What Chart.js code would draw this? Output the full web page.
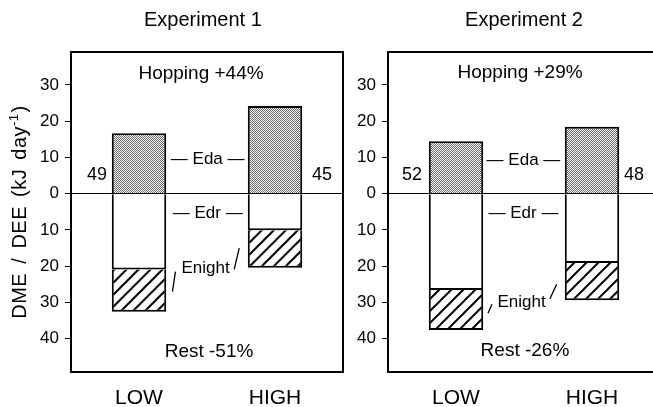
<!DOCTYPE html>
<html>
<head>
<meta charset="utf-8">
<script src="https://cdn.jsdelivr.net/npm/chart.js@4/dist/chart.umd.min.js"></script>
<style>
  html, body { margin: 0; padding: 0; background: #fff; width: 653px; height: 407px; overflow: hidden; }
  .panel { position: absolute; top: 0; height: 407px; }
  #p1 { left: 0; width: 345px; }
  #p2 { left: 345px; width: 320px; }
</style>
</head>
<body>
<div class="panel" id="p1"><canvas id="c1"></canvas></div>
<div class="panel" id="p2"><canvas id="c2"></canvas></div>
<script>
// Energy budget per group (kJ day^-1): Eda above zero, Edr and Enight below
const groups = ['LOW', 'HIGH'];

const exp1Eda    = [16.7, 24.2];
const exp1Edr    = [20.9, 10.1];
const exp1Enight = [11.7, 10.3];
const exp1Pct    = ['49', '45'];

const exp2Eda    = [14.5, 18.5];
const exp2Edr    = [26.6, 19.1];
const exp2Enight = [11.0, 10.3];
const exp2Pct    = ['52', '48'];

const yTicks = [-40, -30, -20, -10, 0, 10, 20, 30];

const FONT = "'Liberation Sans', Arial, Helvetica, sans-serif";

// Fill patterns: fine stipple and diagonal hatching
function makeStipple() {
  const c = document.createElement('canvas');
  c.width = 2; c.height = 2;
  const g = c.getContext('2d');
  g.fillStyle = '#f8f8f8'; g.fillRect(0, 0, 2, 2);
  g.fillStyle = '#6a6a6a'; g.fillRect(0, 0, 1, 1); g.fillRect(1, 1, 1, 1);
  return g.createPattern(c, 'repeat');
}
function makeHatch() {
  const s = 12;
  const c = document.createElement('canvas');
  c.width = s; c.height = s;
  const g = c.getContext('2d');
  g.fillStyle = '#fff'; g.fillRect(0, 0, s, s);
  g.strokeStyle = '#000'; g.lineWidth = 2;
  g.beginPath();
  g.moveTo(-2, s + 2); g.lineTo(s + 2, -2);
  g.moveTo(-2, 2); g.lineTo(2, -2);
  g.moveTo(s - 2, s + 2); g.lineTo(s + 2, s - 2);
  g.stroke();
  return g.createPattern(c, 'repeat');
}
const stipple = makeStipple();
const hatch = makeHatch();

// Frame, titles and in-plot annotations
const panelDecor = {
  id: 'panelDecor',
  afterDatasetsDraw(chart, args, opts) {
    const { ctx, chartArea: a, scales: { x, y } } = chart;
    ctx.save();
    ctx.strokeStyle = '#000';
    ctx.lineWidth = 2;
    ctx.strokeRect(a.left, a.top, a.right - a.left, a.bottom - a.top);

    ctx.fillStyle = '#000';
    ctx.textAlign = 'center';
    ctx.textBaseline = 'alphabetic';
    ctx.font = `20px ${FONT}`;
    ctx.fillText(opts.title, x.getPixelForValue(opts.titleX), 26);

    ctx.textBaseline = 'middle';
    for (const t of opts.texts) {
      ctx.font = `${t.size}px ${FONT}`;
      ctx.textAlign = t.align || 'center';
      ctx.fillText(t.text, x.getPixelForValue(t.x), y.getPixelForValue(t.y));
    }

    ctx.lineWidth = 1.3;
    ctx.beginPath();
    for (const s of opts.strokes) {
      ctx.moveTo(x.getPixelForValue(s[0]), y.getPixelForValue(s[1]));
      ctx.lineTo(x.getPixelForValue(s[2]), y.getPixelForValue(s[3]));
    }
    ctx.stroke();

    if (opts.yTitle) {
      const main = 'DME / DEE (kJ day';
      const sup = '-1';
      const close = ')';
      ctx.wordSpacing = '3px';
      ctx.letterSpacing = '0.5px';
      ctx.font = `20px ${FONT}`;
      const wMain = ctx.measureText(main).width;
      const wClose = ctx.measureText(close).width;
      ctx.font = `13px ${FONT}`;
      const wSup = ctx.measureText(sup).width;
      const total = wMain + wSup + wClose;
      ctx.translate(25.5, 212.5);
      ctx.rotate(-Math.PI / 2);
      ctx.textAlign = 'left';
      ctx.textBaseline = 'alphabetic';
      let u = -total / 2;
      ctx.font = `20px ${FONT}`;
      ctx.fillText(main, u, 0); u += wMain;
      ctx.font = `13px ${FONT}`;
      ctx.fillText(sup, u, -8); u += wSup;
      ctx.font = `20px ${FONT}`;
      ctx.fillText(close, u + 1, 0);
    }
    ctx.restore();
  }
};

function makeChart(id, eda, edr, enight, yWidth, padRight, decor) {
  const common = { borderColor: '#000', borderWidth: 2, borderSkipped: 'start',
                   barPercentage: 0.4, categoryPercentage: 1 };
  return new Chart(document.getElementById(id), {
    type: 'bar',
    data: {
      labels: groups,
      datasets: [
        { label: 'Eda', data: eda, backgroundColor: stipple, ...common },
        { label: 'Edr', data: edr.map(v => -v), backgroundColor: '#fff', ...common },
        { label: 'Enight', data: enight.map(v => -v), backgroundColor: hatch, ...common }
      ]
    },
    plugins: [panelDecor],
    options: {
      responsive: true,
      maintainAspectRatio: false,
      devicePixelRatio: 1,
      animation: false,
      layout: { padding: { top: 52, right: padRight, left: 0, bottom: 0 } },
      plugins: {
        legend: { display: false },
        tooltip: { enabled: false },
        panelDecor: decor
      },
      scales: {
        x: {
          stacked: true,
          offset: true,
          grid: { display: false, drawTicks: false },
          border: { display: false },
          ticks: { color: '#000', font: { family: FONT, size: 21 }, padding: 14 },
          afterFit: s => { s.height = 35; }
        },
        y: {
          stacked: true,
          min: -49.2,
          max: 39.1,
          afterBuildTicks: s => { s.ticks = yTicks.map(v => ({ value: v })); },
          grid: {
            color: c => (c.tick && c.tick.value === 0 ? '#000' : 'rgba(0,0,0,0)'),
            lineWidth: 1,
            tickColor: '#000',
            tickLength: 6,
            drawTicks: true
          },
          border: { display: false },
          ticks: {
            color: '#000',
            padding: 6,
            font: { family: FONT, size: 17 },
            callback: v => String(Math.abs(v))
          },
          afterFit: s => { s.width = yWidth; }
        }
      }
    }
  });
}

makeChart('c1', exp1Eda, exp1Edr, exp1Enight, 71, 2, {
  title: 'Experiment 1',
  titleX: 0.47,
  yTitle: true,
  texts: [
    { text: 'Hopping +44%', x: 0.456, y: 33, size: 19 },
    { text: 'Rest -51%', x: 0.515, y: -43.5, size: 19 },
    { text: '— Eda —', x: 0.505, y: 9.4, size: 17 },
    { text: '— Edr —', x: 0.505, y: -5.5, size: 17 },
    { text: 'Enight', x: 0.489, y: -20.7, size: 17 },
    { text: exp1Pct[0], x: -0.309, y: 5.2, size: 18 },
    { text: exp1Pct[1], x: 1.346, y: 5.2, size: 18 }
  ],
  strokes: [
    [0.246, -27.0, 0.268, -21.5],
    [0.700, -20.9, 0.737, -15.0]
  ]
});

makeChart('c2', exp2Eda, exp2Edr, exp2Enight, 43, 5, {
  title: 'Experiment 2',
  titleX: 0.5,
  yTitle: false,
  texts: [
    { text: 'Hopping +29%', x: 0.471, y: 33.4, size: 19 },
    { text: 'Rest -26%', x: 0.507, y: -43.3, size: 19 },
    { text: '— Eda —', x: 0.496, y: 9.25, size: 17 },
    { text: '— Edr —', x: 0.496, y: -5.5, size: 17 },
    { text: 'Enight', x: 0.482, y: -29.9, size: 17 },
    { text: exp2Pct[0], x: -0.324, y: 5.1, size: 18 },
    { text: exp2Pct[1], x: 1.309, y: 5.1, size: 18 }
  ],
  strokes: [
    [0.235, -33.0, 0.265, -30.5],
    [0.691, -29.0, 0.740, -25.0]
  ]
});
</script>
</body>
</html>
